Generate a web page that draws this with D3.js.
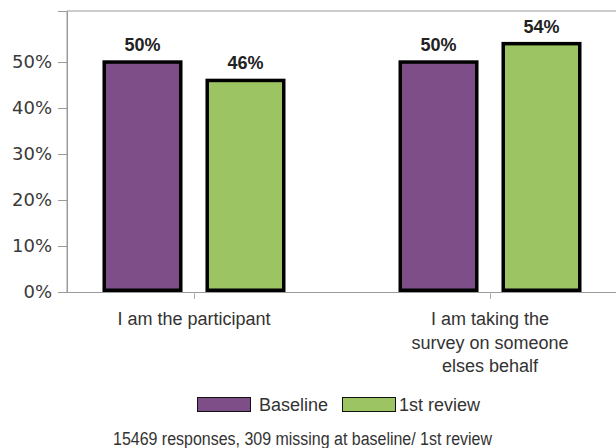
<!DOCTYPE html>
<html><head><meta charset="utf-8">
<script src="https://cdn.jsdelivr.net/npm/d3@7"></script>
<style>body{margin:0;background:#fff}svg{display:block}text{font-family:"Liberation Sans",Arial,sans-serif}</style>
</head><body><svg id="c" width="616" height="448"></svg>
<script>
const categories = ["I am the participant", "I am taking the survey on someone elses behalf"];
const categoryLines = [["I am the participant"], ["I am taking the", "survey on someone", "elses behalf"]];
const series = ["Baseline", "1st review"];
const baseline = [50, 50];
const review1 = [46, 54];
const yTicks = [0, 10, 20, 30, 40, 50];
const colors = ["#7d4e88", "#9cc462"];
const footnote = "15469 responses, 309 missing at baseline/ 1st review";

const svg = d3.select("#c");
const L = 67, R = 617, T = 11, B = 292;
const x0 = d3.scalePoint().domain(categories).range([L, R]).padding(0.429);
const x1 = d3.scaleBand().domain(series).range([-91.5, 91.5]).paddingInner(0.223);
const y = d3.scaleLinear().domain([0, 61.1]).range([B, T]);

// frame
svg.append("path").attr("d", `M${L},${B}V${T}H${R}`).attr("fill","none").attr("stroke","#9a9a9a").attr("stroke-width",1);

// y axis
const ya = svg.append("g").attr("transform", `translate(${L},0)`)
  .call(d3.axisLeft(y).tickValues(yTicks).tickFormat(d => d + "%").tickSize(9).tickPadding(6));
ya.select(".domain").attr("stroke","#9a9a9a");
ya.selectAll(".tick line").attr("stroke","#9a9a9a");
ya.selectAll(".tick text").style("font-size","18px").style("fill","#3a3a3a").style("font-family","'DejaVu Sans', sans-serif");

// x axis
const xa = svg.append("g").attr("transform", `translate(0,${B})`)
  .call(d3.axisBottom(x0).tickSize(7).tickFormat(""));
xa.select(".domain").attr("stroke","#9a9a9a").attr("d", `M${L},0.5H${R}`);
xa.selectAll(".tick line").attr("stroke","#b0b0b0");
xa.selectAll(".tick text").remove();
categories.forEach((c, i) => {
  const t = svg.append("text").attr("x", x0(c)).attr("y", 325).attr("text-anchor","middle")
    .attr("font-size",18).attr("fill","#333");
  categoryLines[i].forEach((ln, j) => t.append("tspan").attr("x", x0(c)).attr("dy", j ? 23.5 : 0).text(ln));
});

// bars
const data = [];
categories.forEach((c, i) => {
  data.push({c, s: series[0], v: baseline[i], col: colors[0]});
  data.push({c, s: series[1], v: review1[i], col: colors[1]});
});
const sw = 3.5;
svg.append("g").selectAll("rect").data(data).join("rect")
  .attr("x", d => x0(d.c) + x1(d.s) + sw/2)
  .attr("width", x1.bandwidth() - sw)
  .attr("y", d => y(d.v))
  .attr("height", d => y(0) - y(d.v) - sw/2)
  .attr("fill", d => d.col).attr("stroke","#000").attr("stroke-width", sw);

svg.append("g").selectAll("text").data(data).join("text")
  .attr("x", d => x0(d.c) + x1(d.s) + x1.bandwidth()/2)
  .attr("y", d => y(d.v) - 11)
  .attr("text-anchor","middle").attr("font-size",18).attr("font-weight","bold").attr("fill","#222")
  .text(d => d.v + "%");

// legend
const lg = [{x: 197, tx: 259}, {x: 342, tx: 399}];
series.forEach((s, i) => {
  svg.append("rect").attr("x", lg[i].x + 0.5).attr("y", 397.5).attr("width", 53).attr("height", 14)
    .attr("fill", colors[i]).attr("stroke","#111").attr("stroke-width",1);
  svg.append("text").attr("x", lg[i].tx).attr("y", 410.5).attr("font-size",18).attr("fill","#333").text(s);
});

svg.append("text").attr("x", 302.5).attr("y", 445).attr("text-anchor","middle").attr("font-size",18)
  .attr("textLength", 379).attr("lengthAdjust","spacingAndGlyphs")
  .attr("fill","#333").text(footnote);
</script></body></html>
